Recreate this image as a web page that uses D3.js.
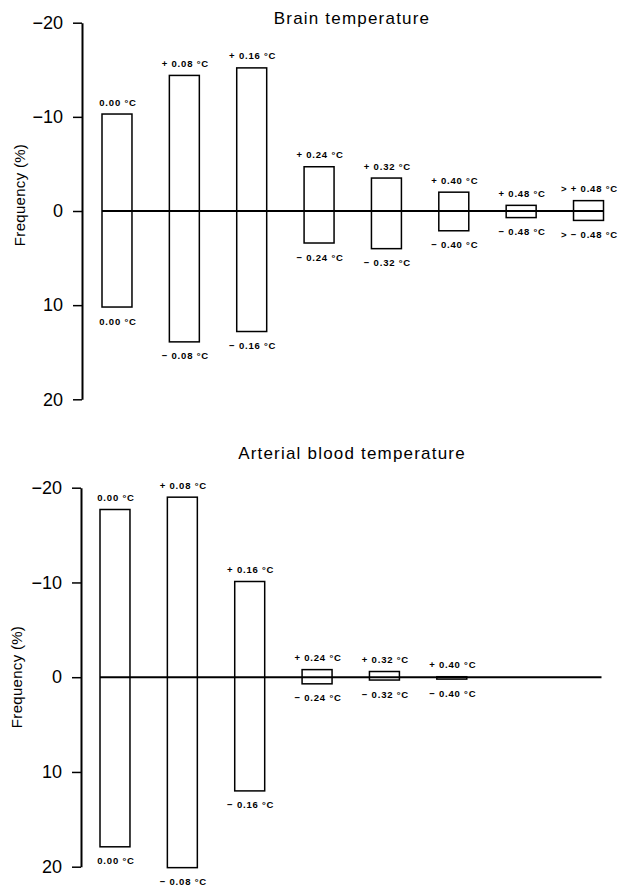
<!DOCTYPE html>
<html>
<head>
<meta charset="utf-8">
<script src="https://cdn.jsdelivr.net/npm/d3@7"></script>
<style>
  html, body { margin: 0; padding: 0; background: #fff; }
  svg { display: block; font-family: "Liberation Sans", Arial, Helvetica, sans-serif; }
</style>
</head>
<body>
<svg id="chart" width="626" height="888"></svg>
<script>
// ---- data ----
const categories = ["0.00", "0.08", "0.16", "0.24", "0.32", "0.40", "0.48", ">0.48"];
const tickValues = [-20, -10, 0, 10, 20];
const tickLabels = ["\u221220", "\u221210", "0", "10", "20"];

// Brain temperature: frequency (%) of increases (upper) and decreases (lower)
const brainUp   = [10.3, 14.4, 15.2, 4.7, 3.5, 2.0, 0.6, 1.1];
const brainDown = [10.2, 13.9, 12.8, 3.4, 4.0, 2.1, 0.7, 1.0];
const brainUpLabels = ["0.00 °C", "+ 0.08 °C", "+ 0.16 °C", "+ 0.24 °C", "+ 0.32 °C", "+ 0.40 °C", "+ 0.48 °C", "> + 0.48 °C"];
const brainDownLabels = ["0.00 °C", "\u2212 0.08 °C", "\u2212 0.16 °C", "\u2212 0.24 °C", "\u2212 0.32 °C", "\u2212 0.40 °C", "\u2212 0.48 °C", "> \u2212 0.48 °C"];

// Arterial blood temperature
const bloodUp   = [17.7, 19.0, 10.1, 0.8, 0.6, 0.05, 0, 0];
const bloodDown = [17.9, 20.1, 12.0, 0.7, 0.3, 0.2, 0, 0];
const bloodUpLabels = ["0.00 °C", "+ 0.08 °C", "+ 0.16 °C", "+ 0.24 °C", "+ 0.32 °C", "+ 0.40 °C", null, null];
const bloodDownLabels = ["0.00 °C", "\u2212 0.08 °C", "\u2212 0.16 °C", "\u2212 0.24 °C", "\u2212 0.32 °C", "\u2212 0.40 °C", null, null];

const titles = ["Brain temperature", "Arterial blood temperature"];
const yTitle = "Frequency (%)";

// ---- drawing ----
const svg = d3.select("#chart");

function panel(cfg) {
  const g = svg.append("g");
  const x = d3.scaleBand().domain(categories).range([cfg.x0, cfg.x1]).paddingInner(0.555).paddingOuter(0);
  const y = d3.scaleLinear().domain([-20, 20]).range([cfg.yTop, cfg.yBot]);

  // title
  g.append("text")
    .attr("x", 352).attr("y", cfg.titleY)
    .attr("text-anchor", "middle").attr("dominant-baseline", "central")
    .attr("font-size", 17).attr("letter-spacing", 1.2)
    .text(cfg.title);

  // y axis
  const axis = d3.axisLeft(y).tickValues(tickValues)
    .tickFormat((d, i) => tickLabels[i]).tickSize(9).tickPadding(10).tickSizeOuter(0);
  const ag = g.append("g").attr("transform", `translate(${cfg.axisX},0)`).call(axis);
  ag.select(".domain").attr("stroke", "#000").attr("stroke-width", 2);
  ag.selectAll(".tick line").attr("stroke", "#000").attr("stroke-width", 1.5);
  ag.selectAll(".tick text").attr("font-size", 18).attr("fill", "#000")
    .attr("font-family", "'Liberation Sans', Arial, sans-serif");

  // y title
  g.append("text")
    .attr("transform", `translate(${cfg.labelX},${cfg.labelY}) rotate(-90)`)
    .attr("text-anchor", "middle").attr("dominant-baseline", "central")
    .attr("font-size", 15).attr("letter-spacing", 0.3)
    .text(yTitle);

  const idx = d3.range(categories.length);

  // zero line
  g.append("line")
    .attr("x1", x(categories[0])).attr("x2", x(categories[categories.length - 1]) + x.bandwidth())
    .attr("y1", y(0)).attr("y2", y(0))
    .attr("stroke", "#000").attr("stroke-width", 2);

  // bars
  g.selectAll("rect.bar").data(idx.filter(i => cfg.up[i] > 0 || cfg.down[i] > 0)).join("rect")
    .attr("class", "bar")
    .attr("x", i => x(categories[i]))
    .attr("width", x.bandwidth())
    .attr("y", i => y(-cfg.up[i]))
    .attr("height", i => y(cfg.down[i]) - y(-cfg.up[i]))
    .attr("fill", "none").attr("stroke", "#000").attr("stroke-width", 1.5);

  // labels
  g.selectAll("text.up").data(idx.filter(i => cfg.upLabels[i])).join("text")
    .attr("class", "up")
    .attr("x", i => x(categories[i]) + x.bandwidth() / 2 + 1)
    .attr("y", i => y(-cfg.up[i]) - 12)
    .attr("text-anchor", "middle").attr("dominant-baseline", "central")
    .attr("font-size", 9.5).attr("font-weight", "bold").attr("letter-spacing", 0.8)
    .text(i => cfg.upLabels[i]);
  g.selectAll("text.down").data(idx.filter(i => cfg.downLabels[i])).join("text")
    .attr("class", "down")
    .attr("x", i => x(categories[i]) + x.bandwidth() / 2 + 1)
    .attr("y", i => y(cfg.down[i]) + 14)
    .attr("text-anchor", "middle").attr("dominant-baseline", "central")
    .attr("font-size", 9.5).attr("font-weight", "bold").attr("letter-spacing", 0.8)
    .text(i => cfg.downLabels[i]);
}

panel({
  title: titles[0], titleY: 18,
  x0: 102, x1: 603.5, yTop: 22.7, yBot: 399.3, axisX: 82,
  labelX: 19, labelY: 195,
  up: brainUp, down: brainDown, upLabels: brainUpLabels, downLabels: brainDownLabels
});
panel({
  title: titles[1], titleY: 453,
  x0: 100, x1: 601.5, yTop: 487.7, yBot: 866.7, axisX: 81,
  labelX: 16, labelY: 677,
  up: bloodUp, down: bloodDown, upLabels: bloodUpLabels, downLabels: bloodDownLabels
});
</script>
</body>
</html>
